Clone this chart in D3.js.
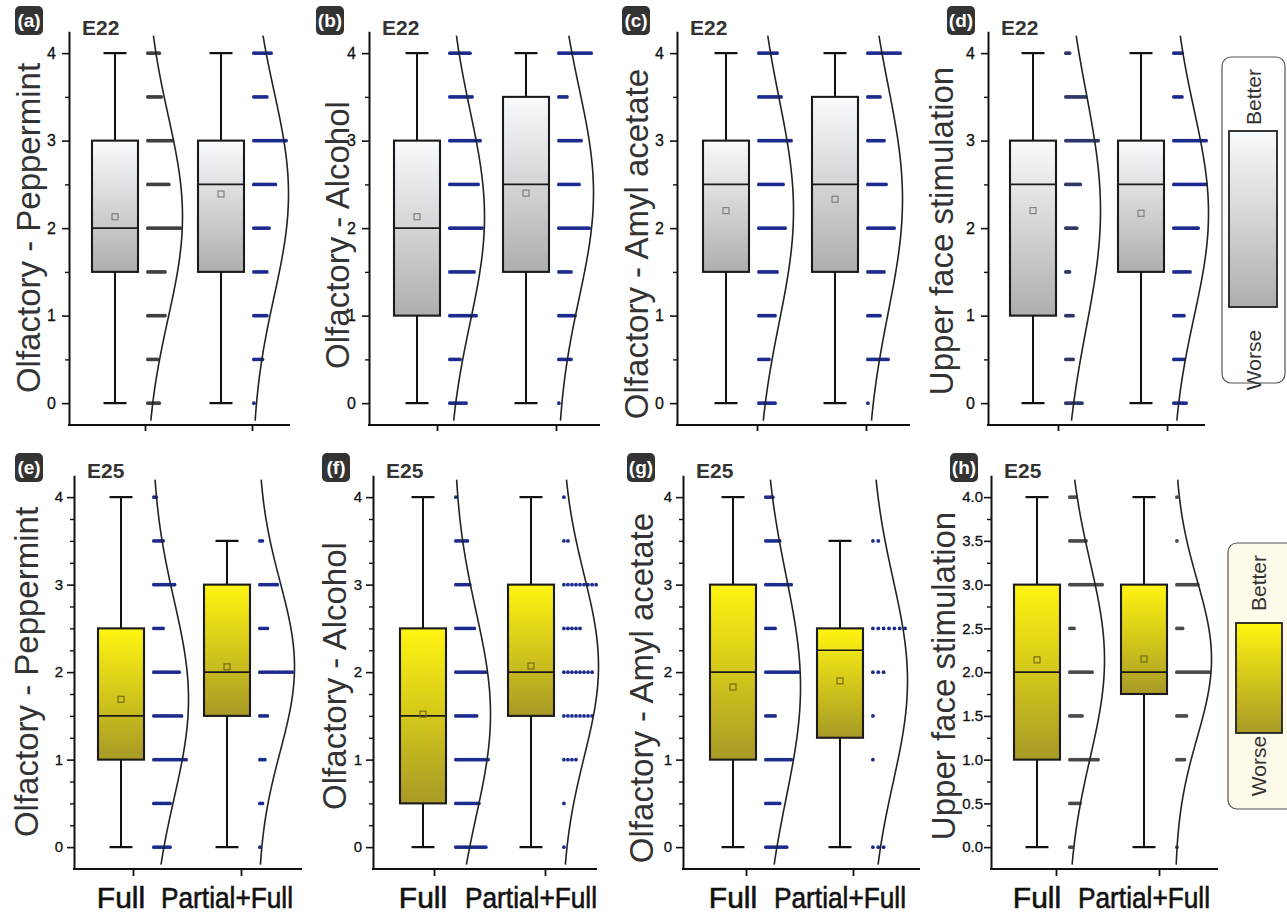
<!DOCTYPE html>
<html><head><meta charset="utf-8">
<script src="https://cdn.jsdelivr.net/npm/d3@7"></script>
<style>body{margin:0;background:#fff;} svg{display:block;font-family:'Liberation Sans',Arial,sans-serif;}</style>
</head><body><svg id="chart" width="1287" height="919"></svg>
<script>
// ---------------- DATA ----------------
const scoreLevels = [0, 0.5, 1, 1.5, 2, 2.5, 3, 3.5, 4];
const groups = ["Full", "Partial+Full"];
const panelTags = ["(a)", "(b)", "(c)", "(d)", "(e)", "(f)", "(g)", "(h)"];
const studyLabels = ["E22", "E22", "E22", "E22", "E25", "E25", "E25", "E25"];
const yTitles = ["Olfactory - Peppermint", "Olfactory - Alcohol", "Olfactory - Amyl acetate", "Upper face stimulation",
                 "Olfactory - Peppermint", "Olfactory - Alcohol", "Olfactory - Amyl acetate", "Upper face stimulation"];
// number of subjects at each score level (aligned with scoreLevels)
const fullCounts = [
  [7, 6, 10, 10, 18, 12, 14, 8, 7],
  [9, 6, 14, 13, 17, 15, 16, 12, 11],
  [9, 6, 9, 10, 14, 13, 17, 12, 10],
  [10, 5, 5, 3, 7, 9, 19, 12, 3],
  [8, 8, 15, 13, 12, 5, 10, 5, 2],
  [14, 11, 15, 10, 14, 9, 7, 6, 1],
  [10, 7, 12, 5, 15, 5, 12, 7, 4],
  [2, 6, 15, 7, 12, 3, 17, 9, 4]
];
const partialCounts = [
  [1, 5, 7, 7, 8, 11, 16, 7, 9],
  [1, 7, 9, 7, 16, 11, 12, 5, 17],
  [1, 11, 7, 9, 14, 10, 9, 7, 17],
  [7, 6, 6, 9, 13, 17, 17, 5, 5],
  [1, 2, 3, 4, 14, 4, 8, 2, 0],
  [1, 1, 4, 8, 8, 5, 9, 2, 1],
  [3, 0, 1, 1, 3, 7, 0, 2, 0],
  [1, 0, 5, 6, 18, 4, 12, 1, 1]
];
// box statistics: [min, Q1, median, Q3, max]
const fullBox = [
  [0, 1.5, 2, 3, 4], [0, 1, 2, 3, 4], [0, 1.5, 2.5, 3, 4], [0, 1, 2.5, 3, 4],
  [0, 1, 1.5, 2.5, 4], [0, 0.5, 1.5, 2.5, 4], [0, 1, 2, 3, 4], [0, 1, 2, 3, 4]
];
const partialBox = [
  [0, 1.5, 2.5, 3, 4], [0, 1.5, 2.5, 3.5, 4], [0, 1.5, 2.5, 3.5, 4], [0, 1.5, 2.5, 3, 4],
  [0, 1.5, 2, 3, 3.5], [0, 1.5, 2, 3, 4], [0, 1.25, 2.25, 2.5, 3.5], [0, 1.75, 2, 3, 4]
];
const fullMean = [2.13, 2.13, 2.2, 2.2, 1.69, 1.52, 1.83, 2.14];
const partialMean = [2.39, 2.4, 2.33, 2.17, 2.06, 2.07, 1.9, 2.15];
const fullSD = [1.16, 1.21, 1.28, 1.35, 1.13, 1.17, 1.27, 1.12];
const partialSD = [1.17, 1.2, 1.3, 1.18, 0.97, 1.04, 1.16, 0.9];
const majorTicksInt = [0, 1, 2, 3, 4];
const majorTicksHalf = [0, 0.5, 1, 1.5, 2, 2.5, 3, 3.5, 4];
const legendTexts = ["Better", "Worse"];

// ---------------- LAYOUT ----------------
const axisL   = [69, 369, 677, 988, 74, 373, 683, 991];
const box1X   = [115, 417, 726, 1033, 121, 423, 733, 1037];
const boxStep = [106, 109, 109, 108, 106, 108, 107, 107];
const axisR   = [290, 600, 910, 1205, 302, 597, 920, 1218];
const tickOff = [[30, 31], [20, 30], [31, 31], [25, 26], [12, 14], [11, 14], [13, 13], [19, 15]];
const tagX    = [15, 316, 622, 947, 15, 322, 627, 950];
const titleX  = [40, 349, 648, 953, 38, 346, 653, 955];
const titleY  = [228, 235, 244, 231, 672, 676, 688, 676];
const labelGap = [13, 13, 13, 13, 11, 11, 11, 8];

const BLUE = "#1b2b8f", GRAY = "#404040", NAVYGRAY = "#2f3768", HGRAY = "#4a4a4a";
const dotColors = [[GRAY, BLUE], [BLUE, BLUE], [BLUE, BLUE], [NAVYGRAY, BLUE],
                   [BLUE, BLUE], [BLUE, BLUE], [BLUE, BLUE], [HGRAY, HGRAY]];

const svg = d3.select("#chart");
const defs = svg.append("defs");
function grad(id, c0, c1) {
  const g = defs.append("linearGradient").attr("id", id).attr("x1", 0).attr("y1", 0).attr("x2", 0).attr("y2", 1);
  g.append("stop").attr("offset", 0).attr("stop-color", c0);
  g.append("stop").attr("offset", 1).attr("stop-color", c1);
}
grad("gGray", "#f8fbfe", "#adaeb0");
grad("gYellow", "#fff510", "#a89a26");

const BOXW = 46, CAPW = 23, DOTW = 36, R = 1.9, AMP = 36.5, DOTOFF = 31;
const INK = "#111";

for (let p = 0; p < 8; p++) {
  const row = p < 4 ? 0 : 1;
  const y = d3.scaleLinear().domain([-0.25, 4.25]).range(row ? [869, 475.25] : [425, 31.25]);
  const x = d3.scaleLinear().domain([1, 2]).range([box1X[p], box1X[p] + boxStep[p]]);
  const g = svg.append("g");
  const L = axisL[p];

  // y axis
  const major = p === 7 ? majorTicksHalf : majorTicksInt;
  const minorStep = row ? 0.25 : 0.5;
  const minor = d3.range(0, 4.0001, minorStep).filter(v => !major.some(m => Math.abs(m - v) < 1e-6));
  const ya = g.append("g").attr("transform", `translate(${L},0)`)
    .call(d3.axisLeft(y).tickValues(major).tickSize(7).tickSizeOuter(0)
      .tickFormat(v => p === 7 ? d3.format(".1f")(v) : d3.format("d")(v)));
  ya.select(".domain").attr("stroke", INK).attr("stroke-width", 2);
  ya.selectAll(".tick line").attr("stroke", INK).attr("stroke-width", 1.6);
  ya.selectAll(".tick text").attr("x", -labelGap[p]).attr("font-size", row ? 15 : 16)
    .attr("font-family", "'Liberation Sans',Arial,sans-serif").attr("fill", INK)
    .attr("stroke", INK).attr("stroke-width", 0.3);
  const ym = g.append("g").attr("transform", `translate(${L},0)`)
    .call(d3.axisLeft(y).tickValues(minor).tickSize(4).tickSizeOuter(0).tickFormat(""));
  ym.select(".domain").remove();
  ym.selectAll(".tick line").attr("stroke", INK).attr("stroke-width", 1.4);

  // x axis
  g.append("line").attr("x1", L - 1).attr("x2", axisR[p]).attr("y1", y(-0.25)).attr("y2", y(-0.25))
    .attr("stroke", INK).attr("stroke-width", 2.2);
  const xt = d3.scaleLinear().domain([1, 2]).range([x(1) + tickOff[p][0], x(2) + tickOff[p][1]]);
  const xa = g.append("g").attr("transform", `translate(0,${y(-0.25)})`)
    .call(d3.axisBottom(xt).tickValues([1, 2]).tickSize(row ? 7 : 6).tickSizeOuter(0).tickFormat(""));
  xa.select(".domain").remove();
  xa.selectAll(".tick line").attr("stroke", INK).attr("stroke-width", 1.8);

  if (row === 1) {
    groups.forEach((name, gi) => {
      const t = g.append("text").attr("x", x(gi + 1)).attr("y", 908).attr("text-anchor", "middle")
        .attr("font-size", 30).attr("fill", INK).attr("stroke", INK).attr("stroke-width", 0.6).text(name);
      if (gi === 1) t.attr("textLength", 132).attr("lengthAdjust", "spacingAndGlyphs");
    });
  }

  // groups
  [0, 1].forEach(gi => {
    const cx = x(gi + 1);
    const bs = gi ? partialBox[p] : fullBox[p];
    const mean = gi ? partialMean[p] : fullMean[p];
    const sd = gi ? partialSD[p] : fullSD[p];
    const counts = gi ? partialCounts[p] : fullCounts[p];
    const [mn, q1, med, q3, mx] = bs;

    // whiskers
    g.append("line").attr("x1", cx).attr("x2", cx).attr("y1", y(mn)).attr("y2", y(q1)).attr("stroke", INK).attr("stroke-width", 2);
    g.append("line").attr("x1", cx).attr("x2", cx).attr("y1", y(q3)).attr("y2", y(mx)).attr("stroke", INK).attr("stroke-width", 2);
    [mn, mx].forEach(v => g.append("line").attr("x1", cx - CAPW / 2).attr("x2", cx + CAPW / 2)
      .attr("y1", y(v)).attr("y2", y(v)).attr("stroke", INK).attr("stroke-width", 2.2));
    // box
    g.append("rect").attr("x", cx - BOXW / 2).attr("y", y(q3)).attr("width", BOXW).attr("height", y(q1) - y(q3))
      .attr("fill", row ? "url(#gYellow)" : "url(#gGray)").attr("stroke", "#1a1a1a").attr("stroke-width", 2.1);
    g.append("line").attr("x1", cx - BOXW / 2).attr("x2", cx + BOXW / 2).attr("y1", y(med)).attr("y2", y(med))
      .attr("stroke", "#1a1a1a").attr("stroke-width", 1.7);
    g.append("rect").attr("x", cx - 3).attr("y", y(mean) - 3).attr("width", 6).attr("height", 6)
      .attr("fill", "none").attr("stroke", row ? "#6b6415" : "#777").attr("stroke-width", 1.1);

    // dots
    const start = cx + DOTOFF;
    const maxC = d3.max(counts);
    const sp = maxC > 1 ? (DOTW - 2 * R) / (maxC - 1) : 0;
    const dots = [];
    scoreLevels.forEach((v, i) => { for (let k = 0; k < counts[i]; k++) dots.push({ v, k }); });
    g.append("g").selectAll("circle").data(dots).join("circle")
      .attr("cx", d => start + R + d.k * sp).attr("cy", d => y(d.v)).attr("r", R)
      .attr("fill", dotColors[p][gi]);

    // normal distribution curve
    const vs = d3.range(-0.2, 4.2001, 0.02);
    const line = d3.line().x(v => start + AMP * Math.exp(-((v - mean) ** 2) / (2 * sd * sd))).y(v => y(v)).curve(d3.curveBasis);
    g.append("path").attr("d", line(vs)).attr("fill", "none").attr("stroke", "#222").attr("stroke-width", 1.6);
  });

  // titles and tags
  g.append("text").attr("transform", `translate(${titleX[p]},${titleY[p]}) rotate(-90)`)
    .attr("text-anchor", "middle").attr("font-size", 33).attr("fill", "#333").text(yTitles[p]);
  g.append("text").attr("x", L + 13).attr("y", row ? 478 : 35).attr("font-size", 21).attr("font-weight", "bold")
    .attr("fill", "#333").text(studyLabels[p]);
  const ty = row ? 453 : 6;
  g.append("rect").attr("x", tagX[p]).attr("y", ty).attr("width", 28).attr("height", 29).attr("rx", 5)
    .attr("fill", "#333");
  g.append("text").attr("x", tagX[p] + 14).attr("y", ty + 21).attr("text-anchor", "middle").attr("font-size", 19)
    .attr("font-weight", "bold").attr("fill", "#fff").text(panelTags[p]);
}

// legends
function legend(x0, y0, w, h, fill, gx, gy, gw, gh, gradId, betterY, worseY, textX) {
  svg.append("rect").attr("x", x0).attr("y", y0).attr("width", w).attr("height", h).attr("rx", 9)
    .attr("fill", fill).attr("stroke", "#555").attr("stroke-width", 1.2);
  svg.append("rect").attr("x", gx).attr("y", gy).attr("width", gw).attr("height", gh)
    .attr("fill", `url(#${gradId})`).attr("stroke", "#222").attr("stroke-width", 1.8);
  [betterY, worseY].forEach((ty, i) => svg.append("text")
    .attr("transform", `translate(${textX},${ty}) rotate(-90)`).attr("text-anchor", "middle")
    .attr("font-size", 21).attr("fill", "#333").text(legendTexts[i]));
}
legend(1222, 57, 63, 326, "#fff", 1229, 131, 48, 176, "gGray", 97, 360, 1261);
legend(1228, 543, 70, 266, "#fffbea", 1236, 623, 46, 110, "gYellow", 583, 766, 1266);
</script></body></html>
